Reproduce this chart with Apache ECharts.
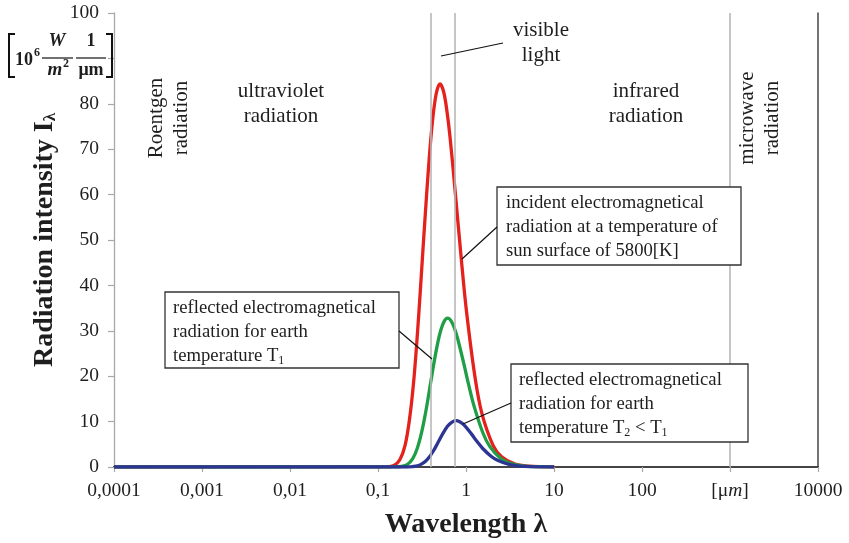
<!DOCTYPE html>
<html>
<head>
<meta charset="utf-8">
<script src="https://cdn.jsdelivr.net/npm/echarts@6/dist/echarts.min.js"></script>
<style>
  html, body { margin: 0; padding: 0; background: #fff; }
  #chart { width: 849px; height: 543px; }
</style>
</head>
<body>
<div id="chart"></div>
<script>
// wavelength [um] / intensity
const sunCurve = [
  [0.0001, 0], [0.127, 0.03], [0.152, 0.32], [0.177, 1.58], [0.203, 4.77], [0.228, 10.5],
  [0.254, 18.7], [0.279, 28.7], [0.304, 39.4], [0.355, 59.4], [0.406, 74.1], [0.456, 82.0],
  [0.507, 84.4], [0.558, 82.6], [0.608, 78.3], [0.659, 72.6], [0.76, 59.9], [0.887, 45.5],
  [1.014, 34.2], [1.27, 19.6], [1.52, 11.7], [2.03, 4.77], [2.54, 2.26], [3.55, 0.69],
  [5.07, 0.19], [10.1, 0.01]
]
const earthT1Curve = [
  [0.0001, 0], [0.155, 0.01], [0.186, 0.12], [0.217, 0.61], [0.248, 1.85], [0.279, 4.09],
  [0.31, 7.28], [0.341, 11.15], [0.372, 15.3], [0.434, 23.1], [0.496, 28.8], [0.558, 31.9],
  [0.62, 32.8], [0.682, 32.1], [0.744, 30.4], [0.806, 28.2], [0.93, 23.3], [1.085, 17.7],
  [1.24, 13.3], [1.55, 7.6], [1.86, 4.54], [2.48, 1.85], [3.1, 0.88], [4.34, 0.27],
  [6.2, 0.07], [9.92, 0.01]
]
const earthT2Curve = [
  [0.0001, 0], [0.193, 0], [0.231, 0.04], [0.27, 0.19], [0.308, 0.58], [0.347, 1.27],
  [0.385, 2.26], [0.424, 3.47], [0.462, 4.76], [0.539, 7.18], [0.616, 8.96], [0.693, 9.91],
  [0.77, 10.2], [0.847, 9.99], [0.924, 9.46], [1.0, 8.77], [1.155, 7.24], [1.35, 5.5],
  [1.54, 4.13], [1.925, 2.36], [2.31, 1.41], [3.08, 0.58], [3.85, 0.27], [5.39, 0.08],
  [7.7, 0.02], [10, 0]
]
// borders of the spectral regions
const regionBorders = [0.001, 0.4, 0.75, 1000]
const xTickLabels = ['0,0001', '0,001', '0,01', '0,1', '1', '10', '100', '{a|[μ}{i|m}{a|]}', '10000']
const yTickLabels = ['0', '10', '20', '30', '40', '50', '60', '70', '80', '', '100']

const serif = 'Liberation Serif, Times New Roman, serif'
const txt = '#1e1e1e'

const chart = echarts.init(document.getElementById('chart'))

const lineSeries = (name, data, color) => ({
  name: name,
  type: 'line',
  data: data,
  smooth: 0.35,
  showSymbol: false,
  z: 3,
  lineStyle: { color: color, width: 3.3 },
  itemStyle: { color: color },
})

const label = (x, y, text, opts) =>
  Object.assign(
    {
      type: 'text',
      x: x,
      y: y,
      z: 10,
      style: {
        text: text,
        font: '21px ' + serif,
        fill: txt,
        align: 'center',
        verticalAlign: 'middle',
        lineHeight: 25,
      },
    },
    opts || {}
  )

const box = (x, y, w, h) => ({
  type: 'rect',
  z: 9,
  shape: { x: x, y: y, width: w, height: h },
  style: { fill: '#fff', stroke: '#333', lineWidth: 1.3 },
})

const leader = (x1, y1, x2, y2) => ({
  type: 'line',
  z: 9,
  shape: { x1: x1, y1: y1, x2: x2, y2: y2 },
  style: { stroke: '#111', lineWidth: 1.2 },
})

const subRich = {
  n: { fontSize: 18.7, fontFamily: serif, fill: txt, lineHeight: 24 },
  s: { fontSize: 12, fontFamily: serif, fill: txt, padding: [9, 0, 0, 0] },
}

const boxText = (x, y, text) => ({
  type: 'text',
  x: x,
  y: y,
  z: 10,
  style: {
    text: text,
    fontSize: 18.7,
    fontFamily: serif,
    fill: txt,
    lineHeight: 24,
    rich: subRich,
  },
})

const unitPart = (x, y, text, font) => ({
  type: 'text',
  x: x,
  y: y,
  z: 10,
  style: { text: text, font: font + ' ' + serif, fill: txt, align: 'center', verticalAlign: 'middle' },
})

const option = {
  animation: false,
  backgroundColor: '#fff',
  grid: { left: 114, right: 31, top: 13, bottom: 76, outerBoundsMode: 'none' },
  xAxis: [
    {
      type: 'log',
      logBase: 10,
      min: 0.0001,
      max: 10000,
      interval: 1,
      name: 'Wavelength λ',
      nameLocation: 'middle',
      nameGap: 44,
      nameTextStyle: { fontFamily: serif, fontSize: 28, fontWeight: 'bold', color: txt },
      axisLine: { lineStyle: { color: '#111', width: 2 } },
      axisTick: { show: true, length: 5, lineStyle: { color: '#a8a8a8', width: 1.2 } },
      axisLabel: {
        margin: 14,
        fontFamily: serif,
        fontSize: 19.5,
        color: txt,
        formatter: (v) => xTickLabels[Math.round(Math.log10(v)) + 4],
        rich: {
          a: { fontFamily: serif, fontSize: 19.5, color: txt },
          i: { fontFamily: serif, fontSize: 19.5, color: txt, fontStyle: 'italic' },
        },
      },
      splitLine: { show: false },
      minorTick: { show: false },
    },
    {
      type: 'value',
      position: 'top',
      min: 0,
      max: 1,
      axisLine: { show: true, lineStyle: { color: '#555', width: 1.5 } },
      axisTick: { show: false },
      axisLabel: { show: false },
      splitLine: { show: false },
    },
  ],
  yAxis: [
    {
      type: 'value',
      min: 0,
      max: 100,
      interval: 10,
      name: '{n|Radiation intensity I}{s|λ}',
      nameLocation: 'middle',
      nameRotate: 90,
      nameGap: 51,
      nameTextStyle: {
        rich: {
          n: { fontFamily: serif, fontSize: 28, fontWeight: 'bold', color: txt },
          s: { fontFamily: serif, fontSize: 17, fontWeight: 'bold', color: txt, padding: [11, 0, 0, 0] },
        },
      },
      axisLine: { show: true, lineStyle: { color: '#a8a8a8', width: 1.3 } },
      axisTick: { show: true, length: 6, lineStyle: { color: '#a8a8a8', width: 1.2 } },
      axisLabel: {
        margin: 15,
        fontFamily: serif,
        fontSize: 19.5,
        color: txt,
        formatter: (v) => yTickLabels[Math.round(v / 10)],
      },
      splitLine: { show: false },
    },
    {
      type: 'value',
      position: 'right',
      min: 0,
      max: 1,
      axisLine: { show: true, lineStyle: { color: '#444', width: 1.5 } },
      axisTick: { show: false },
      axisLabel: { show: false },
      splitLine: { show: false },
    },
  ],
  series: [
    {
      // carrier for the vertical region borders
      type: 'line',
      data: [[0.0001, 0]],
      showSymbol: false,
      lineStyle: { opacity: 0 },
      silent: true,
      z: 1,
      markLine: {
        silent: true,
        symbol: 'none',
        label: { show: false },
        lineStyle: { color: '#b8b8b8', width: 1.6, type: 'solid' },
        data: regionBorders.map((x) => ({ xAxis: x })),
      },
    },
    lineSeries('incident', sunCurve, '#e4211c'),
    lineSeries('reflected T1', earthT1Curve, '#1f9e45'),
    lineSeries('reflected T2', earthT2Curve, '#2c3592'),
  ],
  graphic: [
    // unit of the y axis
    { type: 'polyline', z: 10, shape: { points: [[15, 34], [9, 34], [9, 77], [15, 77]] }, style: { stroke: '#111', lineWidth: 2, fill: null } },
    { type: 'polyline', z: 10, shape: { points: [[106, 34], [112, 34], [112, 77], [106, 77]] }, style: { stroke: '#111', lineWidth: 2, fill: null } },
    unitPart(24, 60, '10', 'bold 18px'),
    unitPart(37, 53, '6', 'bold 12px'),
    unitPart(57, 41, 'W', 'italic bold 19px'),
    leader(42, 58, 73, 58),
    unitPart(55, 70, 'm', 'italic bold 19px'),
    unitPart(66, 64, '2', 'bold 12px'),
    unitPart(91, 41, '1', 'bold 18px'),
    leader(76, 58, 106, 58),
    unitPart(91, 70, 'μm', 'bold 18px'),

    // spectral regions
    label(169, 118, 'Roentgen\nradiation', { rotation: Math.PI / 2 }),
    label(281, 104, 'ultraviolet\nradiation'),
    label(541, 43, 'visible\nlight'),
    leader(441, 56, 503, 43),
    label(646, 104, 'infrared\nradiation'),
    label(760, 118, 'microwave\nradiation', { rotation: Math.PI / 2 }),

    // annotation boxes
    box(497, 187, 244, 78),
    boxText(506, 191, 'incident electromagnetical\nradiation at a temperature of\nsun surface of 5800[K]'),
    leader(497, 227, 462, 259),

    box(165, 292, 234, 76),
    boxText(173, 296, '{n|reflected electromagnetical}\n{n|radiation for earth}\n{n|temperature T}{s|1}'),
    leader(399, 331, 432, 359),

    box(511, 364, 237, 78),
    boxText(519, 368, '{n|reflected electromagnetical}\n{n|radiation for earth}\n{n|temperature T}{s|2}{n| < T}{s|1}'),
    leader(511, 403, 463, 424),
  ],
}

chart.setOption(option)
</script>
</body>
</html>
